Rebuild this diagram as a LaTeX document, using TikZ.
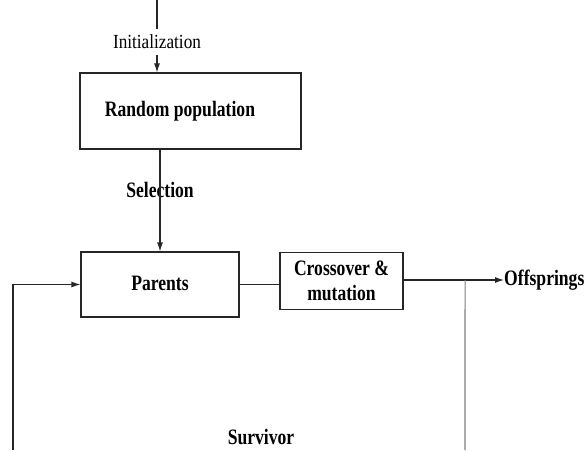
\documentclass[tikz,border=0pt]{standalone}
\usepackage{fontspec}
\setmainfont{Liberation Serif}
\newfontfamily\boldcond[FakeStretch=0.8]{Liberation Serif Bold}
\newfontfamily\regcond[FakeStretch=0.86]{Liberation Serif}
\usetikzlibrary{arrows.meta}
\begin{document}
\begin{tikzpicture}[x=1pt,y=-1pt,
  box/.style={draw=black!85, line width=1.1pt, inner sep=0pt, align=center},
  lbl/.style={font=\boldcond\fontsize{22}{24}\selectfont, inner sep=0pt, align=center},
  conn/.style={draw=black!85, line width=1.1pt},
  arr/.style={conn, -{Latex[length=9pt,width=6pt]}}]
\useasboundingbox (0,0) rectangle (588,450);
% boxes
\node[box, minimum width=221pt, minimum height=76pt] (rp) at (190.5,111) {};
\node[lbl] at (180,111) {Random population};
\node[box, minimum width=158pt, minimum height=65pt] (par) at (160,284.5) {};
\node[lbl] at (160,283) {Parents};
\node[box, minimum width=123pt, minimum height=57pt] (cro) at (341.5,281) {};
\node[lbl, font=\boldcond\fontsize{22}{25}\selectfont] at (341.5,281) {Crossover \&\\mutation};
% labels
\node[font=\regcond\fontsize{20}{22}\selectfont, inner sep=2pt] (init) at (157,42) {Initialization};
\node[lbl] (sel) at (160,190) {Selection};
\node[lbl, anchor=west] (off) at (504,280) {Offsprings};
\node[lbl] (sur) at (261,437) {Survivor};
% coordinates
\coordinate (top) at (157,0);
\coordinate (rbot) at (465,450);
\coordinate (lbot) at (13,450);
\coordinate (lcorner) at (13,284.5);
% connectors
\draw[conn] (top) -- (157,29);
\draw[arr] (157,55) -- (init.south |- rp.north);
\draw[arr] (rp.south -| par.north) -- (par.north);
\draw[conn] (par.east) -- (par.east -| cro.west);
\draw[arr] (cro.east |- off.west) -- (off.west);
\draw[conn, draw=black!50] (cro.east |- off.west) ++(61.5,0) coordinate (rtop) -- (rbot);
\draw[arr] (lbot) -- (lcorner) -- (par.west);
\end{tikzpicture}
\end{document}
